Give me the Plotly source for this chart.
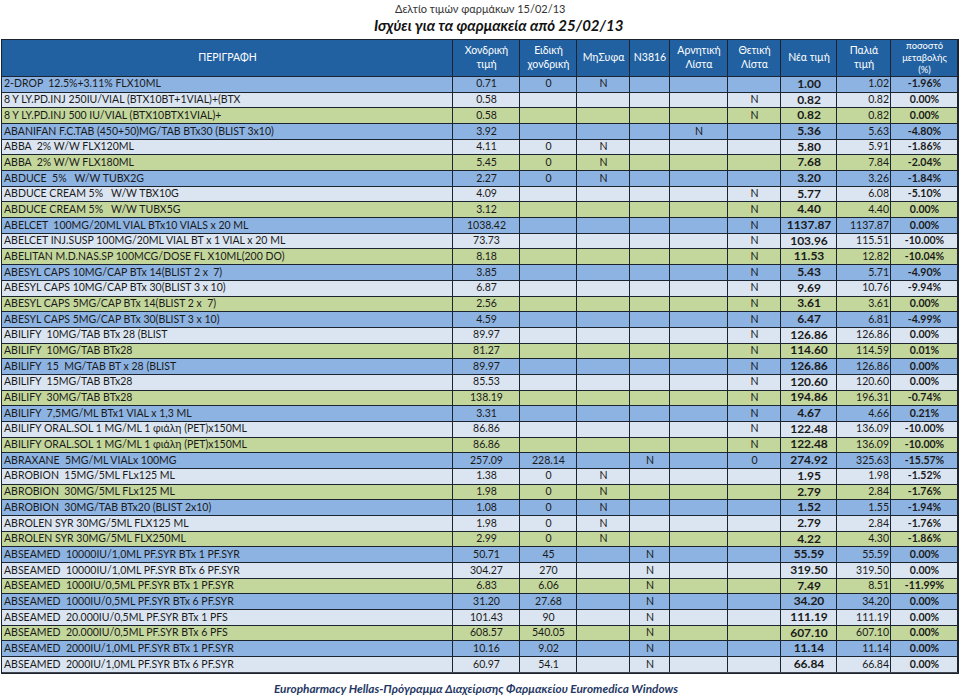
import plotly.graph_objects as go

header_labels = ["ΠΕΡΙΓΡΑΦΗ", "Χονδρική<br>τιμή", "Ειδική<br>χονδρική", "ΜηΣυφα", "N3816",
                 "Αρνητική<br>Λίστα", "Θετική<br>Λίστα", "Νέα τιμή", "Παλιά<br>τιμή",
                 "ποσοστό<br>μεταβολής<br>(%)"]

descriptions = [
    "2-DROP  12.5%+3.11% FLX10ML",
    "8 Y LY.PD.INJ 250IU/VIAL (BTX10BT+1VIAL)+(BTX",
    "8 Y LY.PD.INJ 500 IU/VIAL (BTX10BTX1VIAL)+",
    "ABANIFAN F.C.TAB (450+50)MG/TAB BTx30 (BLIST 3x10)",
    "ABBA  2% W/W FLX120ML",
    "ABBA  2% W/W FLX180ML",
    "ABDUCE  5%   W/W TUBX2G",
    "ABDUCE CREAM 5%   W/W TBX10G",
    "ABDUCE CREAM 5%   W/W TUBX5G",
    "ABELCET  100MG/20ML VIAL BTx10 VIALS x 20 ML",
    "ABELCET INJ.SUSP 100MG/20ML VIAL BT x 1 VIAL x 20 ML",
    "ABELITAN M.D.NAS.SP 100MCG/DOSE FL X10ML(200 DO)",
    "ABESYL CAPS 10MG/CAP BTx 14(BLIST 2 x  7)",
    "ABESYL CAPS 10MG/CAP BTx 30(BLIST 3 x 10)",
    "ABESYL CAPS 5MG/CAP BTx 14(BLIST 2 x  7)",
    "ABESYL CAPS 5MG/CAP BTx 30(BLIST 3 x 10)",
    "ABILIFY  10MG/TAB BTx 28 (BLIST",
    "ABILIFY  10MG/TAB BTx28",
    "ABILIFY  15  MG/TAB BT x 28 (BLIST",
    "ABILIFY  15MG/TAB BTx28",
    "ABILIFY  30MG/TAB BTx28",
    "ABILIFY  7,5MG/ML BTx1 VIAL x 1,3 ML",
    "ABILIFY ORAL.SOL 1 MG/ML 1 φιάλη (PET)x150ML",
    "ABILIFY ORAL.SOL 1 MG/ML 1 φιάλη (PET)x150ML",
    "ABRAXANE  5MG/ML VIALx 100MG",
    "ABROBION  15MG/5ML FLx125 ML",
    "ABROBION  30MG/5ML FLx125 ML",
    "ABROBION  30MG/TAB BTx20 (BLIST 2x10)",
    "ABROLEN SYR 30MG/5ML FLX125 ML",
    "ABROLEN SYR 30MG/5ML FLX250ML",
    "ABSEAMED  10000IU/1,0ML PF.SYR BTx 1 PF.SYR",
    "ABSEAMED  10000IU/1,0ML PF.SYR BTx 6 PF.SYR",
    "ABSEAMED  1000IU/0,5ML PF.SYR BTx 1 PF.SYR",
    "ABSEAMED  1000IU/0,5ML PF.SYR BTx 6 PF.SYR",
    "ABSEAMED  20.000IU/0,5ML PF.SYR BTx 1 PFS",
    "ABSEAMED  20.000IU/0,5ML PF.SYR BTx 6 PFS",
    "ABSEAMED  2000IU/1,0ML PF.SYR BTx 1 PF.SYR",
    "ABSEAMED  2000IU/1,0ML PF.SYR BTx 6 PF.SYR",
]

wholesale = ["0.71", "0.58", "0.58", "3.92", "4.11", "5.45", "2.27", "4.09", "3.12", "1038.42",
             "73.73", "8.18", "3.85", "6.87", "2.56", "4.59", "89.97", "81.27", "89.97", "85.53",
             "138.19", "3.31", "86.86", "86.86", "257.09", "1.38", "1.98", "1.08", "1.98", "2.99",
             "50.71", "304.27", "6.83", "31.20", "101.43", "608.57", "10.16", "60.97"]

special_wholesale = ["0", "", "", "", "0", "0", "0", "", "", "",
                     "", "", "", "", "", "", "", "", "", "",
                     "", "", "", "", "228.14", "0", "0", "0", "0", "0",
                     "45", "270", "6.06", "27.68", "90", "540.05", "9.02", "54.1"]

mhsyfa = ["N", "", "", "", "N", "N", "N", "", "", "",
          "", "", "", "", "", "", "", "", "", "",
          "", "", "", "", "", "N", "N", "N", "N", "N",
          "", "", "", "", "", "", "", ""]

n3816 = ["", "", "", "", "", "", "", "", "", "",
         "", "", "", "", "", "", "", "", "", "",
         "", "", "", "", "N", "", "", "", "", "",
         "N", "N", "N", "N", "N", "N", "N", "N"]

negative_list = ["", "", "", "N", "", "", "", "", "", "",
                 "", "", "", "", "", "", "", "", "", "",
                 "", "", "", "", "", "", "", "", "", "",
                 "", "", "", "", "", "", "", ""]

positive_list = ["", "N", "N", "", "", "", "", "N", "N", "N",
                 "N", "N", "N", "N", "N", "N", "N", "N", "N", "N",
                 "N", "N", "N", "N", "0", "", "", "", "", "",
                 "", "", "", "", "", "", "", ""]

new_price = ["1.00", "0.82", "0.82", "5.36", "5.80", "7.68", "3.20", "5.77", "4.40", "1137.87",
             "103.96", "11.53", "5.43", "9.69", "3.61", "6.47", "126.86", "114.60", "126.86", "120.60",
             "194.86", "4.67", "122.48", "122.48", "274.92", "1.95", "2.79", "1.52", "2.79", "4.22",
             "55.59", "319.50", "7.49", "34.20", "111.19", "607.10", "11.14", "66.84"]

old_price = ["1.02", "0.82", "0.82", "5.63", "5.91", "7.84", "3.26", "6.08", "4.40", "1137.87",
             "115.51", "12.82", "5.71", "10.76", "3.61", "6.81", "126.86", "114.59", "126.86", "120.60",
             "196.31", "4.66", "136.09", "136.09", "325.63", "1.98", "2.84", "1.55", "2.84", "4.30",
             "55.59", "319.50", "8.51", "34.20", "111.19", "607.10", "11.14", "66.84"]

pct_change = ["-1.96%", "0.00%", "0.00%", "-4.80%", "-1.86%", "-2.04%", "-1.84%", "-5.10%", "0.00%", "0.00%",
              "-10.00%", "-10.04%", "-4.90%", "-9.94%", "0.00%", "-4.99%", "0.00%", "0.01%", "0.00%", "0.00%",
              "-0.74%", "0.21%", "-10.00%", "-10.00%", "-15.57%", "-1.52%", "-1.76%", "-1.94%", "-1.76%", "-1.86%",
              "0.00%", "0.00%", "-11.99%", "0.00%", "0.00%", "0.00%", "0.00%", "0.00%"]

# ---- layout constants (pixels) ----
W, H = 960, 698
FONT = "Lato"
header_color, blue, light, green = "#2161a1", "#8db3e2", "#dbe5f1", "#c3d69b"
border = "#1c2430"
table_left, table_top = 2, 40
header_h, row_h = 37, 15.68
col_widths = [451, 67, 57, 53, 40, 58, 53, 56, 54, 67]

columns = [descriptions, wholesale, special_wholesale, mhsyfa, n3816, negative_list,
           positive_list, new_price, old_price, pct_change]
n_rows = len(descriptions)
n_cols = len(columns)

x_edges = [0]
for w in col_widths:
    x_edges.append(x_edges[-1] + w)
y_edges = [0, header_h] + [header_h + row_h * (i + 1) for i in range(n_rows)]
table_w, table_h = x_edges[-1], y_edges[-1]

# colour index: 0 header, 1 blue, 2 light, 3 green
z = [[0] * n_cols] + [[1 + (i % 3)] * n_cols for i in range(n_rows)]
colorscale = [[0, header_color], [1 / 6, header_color], [1 / 6, blue], [0.5, blue],
              [0.5, light], [5 / 6, light], [5 / 6, green], [1, green]]

fig = go.Figure()
fig.add_trace(go.Heatmap(
    x=x_edges, y=y_edges, z=z, zmin=0, zmax=3, colorscale=colorscale,
    showscale=False, xgap=1, ygap=1, hoverinfo="skip",
))

row_centers = [(y_edges[i + 1] + y_edges[i + 2]) / 2 for i in range(n_rows)]
header_center = header_h / 2

for c, vals in enumerate(columns):
    left, right = x_edges[c], x_edges[c + 1]
    if c == 0:
        xpos, tpos = left + 2, "middle right"
    elif c == 8:
        xpos, tpos = right - 2, "middle left"
    else:
        xpos, tpos = (left + right) / 2, "middle center"
    bold = c in (7, 9)
    size = 12 if c == 7 else 10.5
    texts = ["<b>%s</b>" % v if (bold and v) else v for v in vals]
    fig.add_trace(go.Scatter(
        x=[xpos] * n_rows, y=row_centers, text=texts, mode="text", textposition=tpos,
        textfont=dict(family=FONT, size=size, color="#1a1a1a"),
        hoverinfo="skip", showlegend=False, cliponaxis=False,
    ))
    hsize = 9.4 if header_labels[c].count("<br>") >= 2 else 10.5
    fig.add_trace(go.Scatter(
        x=[(left + right) / 2], y=[header_center], text=[header_labels[c]], mode="text",
        textposition="middle center",
        textfont=dict(family=FONT, size=hsize, color="white"),
        hoverinfo="skip", showlegend=False, cliponaxis=False,
    ))

fig.update_layout(
    width=W, height=H,
    margin=dict(l=0, r=0, t=0, b=0),
    paper_bgcolor="white",
    plot_bgcolor=border,
    showlegend=False,
    xaxis=dict(domain=[table_left / W, (table_left + table_w) / W], range=[0, table_w],
               showgrid=False, zeroline=False, showticklabels=False, ticks="",
               showline=True, mirror=True, linecolor=border, linewidth=1, fixedrange=True),
    yaxis=dict(domain=[1 - (table_top + table_h) / H, 1 - table_top / H], range=[table_h, 0],
               showgrid=False, zeroline=False, showticklabels=False, ticks="",
               showline=True, mirror=True, linecolor=border, linewidth=1, fixedrange=True),
    annotations=[
        dict(text="Δελτίο τιμών φαρμάκων 15/02/13", x=480 / W, y=1 - 9 / H, xref="paper", yref="paper",
             showarrow=False, font=dict(family=FONT, size=11, color="#333333"), yanchor="middle"),
        dict(text="<b><i>Ισχύει για τα φαρμακεία από 25/02/13</i></b>", x=498 / W, y=1 - 25 / H,
             xref="paper", yref="paper", showarrow=False,
             font=dict(family=FONT, size=15, color="#111111"), yanchor="middle"),
        dict(text="<b><i>Europharmacy Hellas-Πρόγραμμα Διαχείρισης Φαρμακείου Euromedica Windows</i></b>",
             x=476 / W, y=1 - 688 / H, xref="paper", yref="paper", showarrow=False,
             font=dict(family=FONT, size=11.8, color="#1f3864"), yanchor="middle"),
    ],
)

fig.write_html("out.html", config={"displayModeBar": False},
               post_script="document.body.style.margin='0';document.body.style.overflow='hidden';")
